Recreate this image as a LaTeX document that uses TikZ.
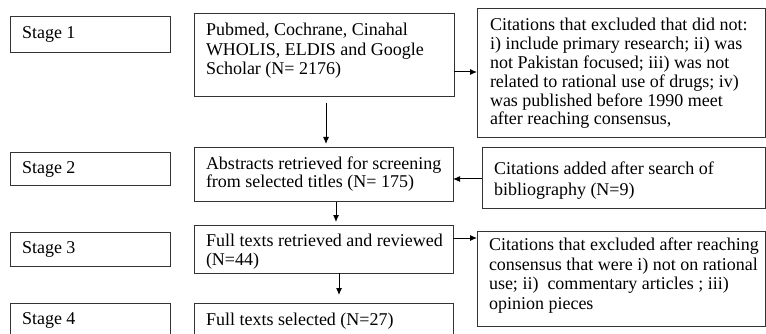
\documentclass[tikz,border=0pt]{standalone}
\usepackage{fontspec}
\setmainfont{Liberation Serif}
\usetikzlibrary{arrows.meta,calc}
\begin{document}
\begin{tikzpicture}[x=1pt,y=-1pt,
  box/.style={draw=black!80,line width=1pt,rectangle,inner sep=0pt,outer sep=0pt},
  txt/.style={anchor=north west,inner sep=0pt,outer sep=0pt,align=left,font=\fontsize{18}{19}\selectfont},
  stxt/.style={anchor=base west,inner sep=0pt,outer sep=0pt,font=\fontsize{18}{19}\selectfont},
  arr/.style={draw=black,line width=1pt,-{Latex[length=7pt,width=6pt]}}]
\useasboundingbox (0,0) rectangle (766,334);
\clip (0,0) rectangle (766,334);
\fill[white] (0,0) rectangle (766,334);
% stage boxes
\node[box,minimum width=160pt,minimum height=36pt] (s1) at (90,35) {};
\node[box,minimum width=160pt,minimum height=33pt] (s2) at (90,169.5) {};
\node[box,minimum width=160pt,minimum height=34pt] (s3) at (90,249) {};
\node[box,minimum width=160pt,minimum height=42pt] (s4) at (90,324) {};
\node[stxt] (s1t) at (22,39) {Stage 1};
\node[stxt] (s2t) at (22,174) {Stage 2};
\node[stxt] (s3t) at (22,253) {Stage 3};
\node[stxt] (s4t) at (22,324) {Stage 4};
% process boxes
\node[box,minimum width=260pt,minimum height=83pt] (p1) at (324,55.5) {};
\node[box,minimum width=259pt,minimum height=53pt] (p2) at (323.5,174.5) {};
\node[box,minimum width=259pt,minimum height=48pt] (p3) at (323.5,249) {};
\node[box,minimum width=259pt,minimum height=42pt] (p4) at (323.5,324) {};
\node[txt,font=\fontsize{18}{19.5}\selectfont] (p1t) at (206,23.5) {\rule{0pt}{12.5pt}Pubmed, Cochrane, Cinahal\\WHOLIS, ELDIS and Google\\Scholar (N= 2176)};
\node[txt,font=\fontsize{18}{18.7}\selectfont] (p2t) at (206,156.5) {\rule{0pt}{12.5pt}Abstracts retrieved for screening\\from selected titles (N= 175)};
\node[txt,font=\fontsize{18}{18.3}\selectfont] (p3t) at (206,234.2) {\rule{0pt}{12.5pt}Full texts retrieved and reviewed\\(N=44)};
\node[stxt] (p4t) at (206,325) {Full texts selected (N=27)};
% side boxes
\node[box,minimum width=288.5pt,minimum height=129pt] (e1) at (621.25,73.5) {};
\node[box,minimum width=283.5pt,minimum height=60pt] (e2) at (623.75,178) {};
\node[box,minimum width=288.5pt,minimum height=95pt] (e3) at (621.25,278.5) {};
\node[txt,font=\fontsize{18}{18.8}\selectfont] (e1t) at (490,18.5) {\rule{0pt}{12.5pt}Citations that excluded that did not:\\i) include primary research; ii) was\\not Pakistan focused; iii) was not\\related to rational use of drugs; iv)\\was published before 1990 meet\\after reaching consensus,};
\node[txt,font=\fontsize{18}{20.7}\selectfont] (e2t) at (494,161.8) {\rule{0pt}{12.5pt}Citations added after search of\\bibliography (N=9)};
\node[txt,font=\fontsize{18}{19.4}\selectfont] (e3t) at (489,238.2) {\rule{0pt}{12.5pt}Citations that excluded after reaching\\consensus that were i) not on rational\\use; ii)\ \ commentary articles ; iii)\\opinion pieces};
% connectors
\coordinate (ya) at (0,72);
\coordinate (yb) at (0,179);
\coordinate (yc) at (0,238);
\coordinate (xa) at (326,0);
\coordinate (xb) at (336,0);
\coordinate (xc) at (339,0);
\draw[arr] (p1.east |- ya) -- (e1.west |- ya);
\draw[arr] ($(p1.south -| xa)+(0,6)$) -- ($(p2.north -| xa)+(0,-4)$);
\draw[arr] ($(p2.south -| xb)+(0,1)$) -- ($(p3.north -| xb)+(0,-3)$);
\draw[arr] (p3.south -| xc) -- ($(p4.north -| xc)+(0,-8)$);
\draw[arr] (e2.west |- yb) -- (p2.east |- yb);
\draw[arr] (p3.east |- yc) -- (e3.west |- yc);
\end{tikzpicture}
\end{document}
